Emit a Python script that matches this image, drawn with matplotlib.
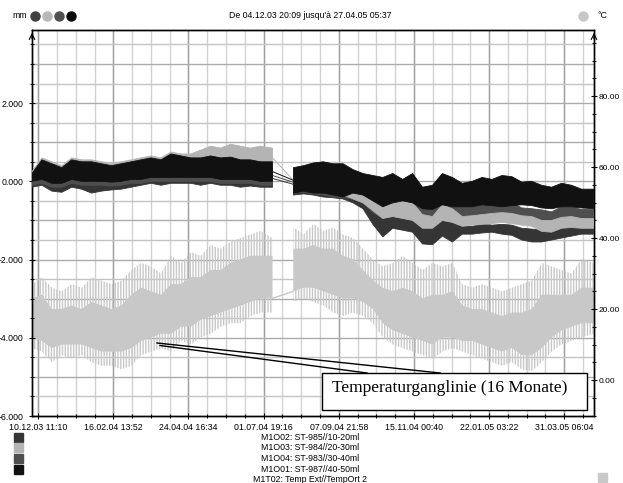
import matplotlib
matplotlib.use("Agg")
import matplotlib.pyplot as plt
import matplotlib.dates as mdates
import numpy as np
from datetime import datetime
from matplotlib.lines import Line2D
from matplotlib.patches import Rectangle

plt.rcParams['font.family'] = ['Liberation Sans', 'DejaVu Sans']
plt.rcParams['hatch.linewidth'] = 1.0

# time axis
t_start = datetime(2003, 12, 4, 20, 9)
t_end = datetime(2005, 4, 27, 5, 37)
tick_labels = ["10.12.03 11:10", "16.02.04 13:52", "24.04.04 16:34", "01.07.04 19:16",
               "07.09.04 21:58", "15.11.04 00:40", "22.01.05 03:22", "31.03.05 06:04"]

# sample nodes (days since start), nan row = logger gap
days = [0, 9, 18, 27, 36, 45, 54, 63, 72, 81, 90, 99, 108, 117, 126, 135, 144, 153, 162, 171,
        180, 189, 198, 207, 218, 227, 237, 246, 255, 264, 273, 282, 291, 300, 309, 318, 327, 336,
        345, 354, 363, 372, 381, 390, 399, 408, 417, 426, 435, 444, 453, 462, 471, 480, 489, 498, 509]
gap = 25  # index of the gap node

nan = np.nan
# temperature (right axis, deg C): spike envelope and dense core
temp_hi = [27, 29, 26, 25, 27, 26, 29, 28, 27, 28, 31, 33, 32, 30, 35, 33, 36, 35, 38, 37,
           39, 40, 41, 42, 40, nan, 43, 41, 44, 42, 43, 41, 40, 37, 34, 32, 33, 35,
           33, 31, 33, 32, 33, 27, 26, 27, 26, 25, 26, 27, 28, 33, 32, 31, 30, 34, 33]
temp_lo = [9, 8, 5, 7, 6, 7, 5, 4, 4, 3, 4, 7, 8, 9, 8, 11, 10, 12, 13, 15,
           16, 16, 18, 19, 19, nan, 22, 23, 22, 21, 19, 18, 19, 18, 16, 12, 10, 9,
           8, 7, 6, 8, 9, 8, 7, 6, 5, 4, 5, 3, 2.5, 5, 8, 10, 11, 12, 13]
temp_core_hi = [23, 24, 20, 20, 21, 20, 22, 21, 20, 21, 24, 26, 25, 24, 27, 27, 29, 29, 31, 31,
                33, 34, 35, 35, 35, nan, 37, 37, 38, 37, 37, 35, 34, 31, 28, 26, 25, 26,
                25, 23, 24, 24, 25, 21, 20, 20, 19, 18, 19, 19, 20, 24, 24, 24, 24, 26, 26]
temp_core_lo = [12, 11, 9, 10, 10, 10, 9, 8, 8, 8, 9, 11, 12, 13, 13, 15, 15, 17, 18, 19,
                20, 21, 22, 23, 23, nan, 25, 26, 26, 25, 24, 23, 23, 22, 20, 16, 14, 13,
                12, 11, 10, 12, 12, 11, 11, 10, 9, 8, 9, 7, 7, 9, 12, 14, 15, 16, 16]

# displacement series (left axis, mm): band high / low
m1o01_hi = [0.2, 0.55, 0.45, 0.35, 0.55, 0.5, 0.5, 0.45, 0.4, 0.45, 0.5, 0.55, 0.6, 0.55, 0.7, 0.65, 0.6, 0.6, 0.65, 0.6,
            0.62, 0.55, 0.55, 0.5, 0.5, nan, 0.35, 0.4, 0.47, 0.5, 0.45, 0.45, 0.3, 0.2, 0.15, 0.1, 0.2, 0.05,
            0.2, -0.15, -0.1, 0.2, 0.1, -0.05, 0.0, 0.1, 0.05, 0.15, 0.12, -0.02, 0.0, -0.1, -0.15, -0.05, -0.1, -0.2, -0.2]
m1o01_lo = [0.0, 0.05, -0.05, -0.05, 0.05, 0.0, 0.0, 0.0, -0.02, 0.0, 0.05, 0.05, 0.1, 0.1, 0.1, 0.1, 0.1, 0.1, 0.1, 0.05,
            0.05, 0.05, 0.05, 0.0, 0.0, nan, -0.3, -0.25, -0.3, -0.3, -0.35, -0.4, -0.3, -0.35, -0.5, -0.65, -0.55, -0.5,
            -0.55, -0.7, -0.72, -0.6, -0.65, -0.65, -0.65, -0.6, -0.62, -0.65, -0.62, -0.6, -0.62, -0.68, -0.7, -0.65, -0.65, -0.68, -0.7]
m1o03_hi = [0.25, 0.6, 0.5, 0.4, 0.6, 0.55, 0.55, 0.5, 0.45, 0.5, 0.55, 0.6, 0.65, 0.6, 0.75, 0.7, 0.7, 0.8, 0.9, 0.85,
            0.95, 0.9, 0.85, 0.9, 0.85, nan, 0.3, 0.35, 0.4, 0.42, 0.4, 0.35, 0.1, 0.0, -0.3, -0.5, -0.45, -0.5,
            -0.55, -0.85, -0.9, -0.6, -0.7, -0.9, -0.88, -0.85, -0.82, -0.8, -0.82, -0.88, -0.9, -1.0, -1.0, -0.92, -0.9, -0.95, -0.95]
m1o03_lo = [0.0, 0.1, 0.0, 0.0, 0.1, 0.05, 0.05, 0.05, 0.0, 0.05, 0.1, 0.1, 0.15, 0.15, 0.2, 0.2, 0.25, 0.3, 0.4, 0.35,
            0.4, 0.4, 0.35, 0.4, 0.35, nan, -0.25, -0.2, -0.25, -0.25, -0.3, -0.35, -0.45, -0.55, -0.75, -0.95, -0.9, -0.95,
            -1.0, -1.2, -1.2, -1.0, -1.05, -1.15, -1.12, -1.1, -1.08, -1.05, -1.08, -1.12, -1.15, -1.28, -1.3, -1.2, -1.18, -1.2, -1.2]
m1o04_hi = [0.1, 0.45, 0.3, 0.2, 0.4, 0.35, 0.35, 0.3, 0.25, 0.3, 0.35, 0.4, 0.45, 0.4, 0.55, 0.5, 0.45, 0.45, 0.5, 0.45,
            0.5, 0.45, 0.45, 0.4, 0.4, nan, 0.25, 0.3, 0.35, 0.38, 0.3, 0.3, 0.0, -0.15, -0.35, -0.4, -0.3, -0.3,
            -0.35, -0.55, -0.6, -0.3, -0.4, -0.65, -0.62, -0.6, -0.58, -0.5, -0.55, -0.68, -0.7, -0.73, -0.78, -0.65, -0.65, -0.72, -0.72]
m1o04_lo = [-0.1, -0.05, -0.15, -0.15, -0.05, -0.1, -0.1, -0.1, -0.12, -0.1, -0.05, -0.05, 0.0, 0.0, 0.0, 0.0, 0.0, 0.0, 0.0, -0.05,
            -0.05, -0.05, -0.05, -0.1, -0.1, nan, -0.3, -0.28, -0.32, -0.35, -0.4, -0.42, -0.45, -0.55, -0.8, -0.95, -0.75, -0.8,
            -0.85, -1.05, -1.05, -0.85, -0.9, -0.95, -0.95, -0.88, -0.85, -0.8, -0.85, -1.0, -1.02, -1.1, -1.1, -1.0, -0.98, -1.05, -1.05]
m1o02_hi = [0.05, 0.35, 0.15, 0.05, 0.3, 0.2, 0.15, 0.15, 0.1, 0.2, 0.25, 0.3, 0.35, 0.3, 0.45, 0.4, 0.4, 0.35, 0.4, 0.35,
            0.4, 0.35, 0.35, 0.3, 0.3, nan, 0.2, 0.25, 0.3, 0.3, 0.25, 0.2, -0.1, -0.3, -0.6, -0.8, -0.7, -0.75,
            -0.8, -1.05, -1.1, -0.9, -0.95, -1.15, -1.15, -1.1, -1.12, -1.1, -1.12, -1.2, -1.22, -1.25, -1.25, -1.15, -1.12, -1.1, -1.1]
m1o02_lo = [-0.15, -0.1, -0.25, -0.28, -0.15, -0.2, -0.3, -0.25, -0.22, -0.2, -0.15, -0.1, -0.05, -0.1, -0.05, -0.05, -0.05, -0.1, -0.05, -0.1,
            -0.1, -0.15, -0.12, -0.15, -0.15, nan, -0.35, -0.32, -0.35, -0.4, -0.42, -0.45, -0.55, -0.7, -1.1, -1.42, -1.2, -1.25,
            -1.3, -1.6, -1.62, -1.4, -1.55, -1.35, -1.35, -1.32, -1.3, -1.35, -1.38, -1.5, -1.55, -1.55, -1.5, -1.45, -1.4, -1.35, -1.35]

legend_names = ["M1O02: ST-985//10-20ml", "M1O03: ST-984//20-30ml",
                "M1O04: ST-983//30-40ml", "M1O01: ST-987//40-50ml"]
legend_colors = ["#353535", "#b4b4b4", "#4e4e4e", "#111111"]
temp_name = "M1T02: Temp Ext//TempOrt 2"
temp_color = "#c8c8c8"

W, H = 623, 483
fig = plt.figure(figsize=(W / 100, H / 100), dpi=100)
ax = fig.add_axes([32 / W, (H - 416) / H, 562 / W, 386 / H])
ax2 = ax.twinx()

x0 = mdates.date2num(t_start)
x = x0 + np.array(days, dtype=float)

# ---- axes limits first (grid lines use them)
ax.set_xlim(x0, mdates.date2num(t_end))
ax.set_ylim(-6, 3.87)
ax2.set_ylim(-10.14, 98.6)

# ---- grid, all on the lower (right) axes so the data sits on top
major = [mdates.date2num(datetime.strptime(s, "%d.%m.%y %H:%M")) for s in tick_labels]
step = major[1] - major[0]
minor = np.arange(major[0] - step, major[-1] + 2 * step, step / 4)
minor = minor[(minor > x0) & (minor < mdates.date2num(t_end))]
for m in minor:
    ax2.axvline(m, color="#d2d2d2", lw=1.0, zorder=0)
for m in major:
    ax2.axvline(m, color="#a0a0a0", lw=1.0, zorder=0)
for v in np.arange(-5.5, 4.0, 0.5):
    ax2.add_line(Line2D([0, 1], [v, v], transform=ax.get_yaxis_transform(),
                        color="#c4c4c4" if v % 1 else "#acacac", lw=1.0, zorder=0))

# ---- temperature on right axis
ax2.fill_between(x, temp_lo, temp_hi, facecolor="none", edgecolor=temp_color,
                 hatch="||||||", linewidth=0, zorder=1)
ax2.fill_between(x, temp_core_lo, temp_core_hi, color=temp_color, linewidth=0, zorder=1)
ax2.plot([x[gap - 1], x[gap + 1]], [temp_core_lo[gap - 1], temp_core_lo[gap + 1]],
         color=temp_color, lw=1.0, zorder=1)

# ---- displacement series (left axis, drawn above temp)
ax.set_zorder(ax2.get_zorder() + 1)
ax.patch.set_visible(False)
series = [(m1o02_lo, m1o02_hi, legend_colors[0]), (m1o04_lo, m1o04_hi, legend_colors[2]),
          (m1o03_lo, m1o03_hi, legend_colors[1]), (m1o01_lo, m1o01_hi, legend_colors[3])]
for lo, hi, c in series:
    ax.fill_between(x, lo, hi, color=c, linewidth=0.6, edgecolor=c, zorder=3)
    ax.plot([x[gap - 1], x[gap + 1]], [(lo[gap - 1] + hi[gap - 1]) / 2, (lo[gap + 1] + hi[gap + 1]) / 2],
            color=c, lw=0.7, zorder=3)

# ---- ticks
ax.set_xticks(major)
ax.set_xticklabels(tick_labels, fontsize=6.3)
ax.set_xticks(minor, minor=True)
ax.set_yticks([-6, -4, -2, 0, 2])
ax.set_yticklabels(["{:.3f}".format(v) for v in [-6, -4, -2, 0, 2]], fontsize=6.3)
ax.set_yticks(np.arange(-5.5, 3.9, 0.5), minor=True)
ax2.set_yticks([0, 20, 40, 60, 80])
ax2.set_yticklabels(["{:.2f}".format(v) for v in [0, 20, 40, 60, 80]], fontsize=6.0)
ax2.set_yticks(np.arange(-10, 98, 5), minor=True)
for a in (ax, ax2):
    a.tick_params(which="both", direction="inout", length=4, width=0.8, colors="black", pad=3)
    a.tick_params(which="minor", length=3)
    for s in a.spines.values():
        s.set_color("black")
        s.set_linewidth(1.0)
ax.tick_params(axis="y", pad=4)
ax2.tick_params(axis="y", pad=1.5)

# axis arrows
ax.annotate("", xy=(0, 1.0), xytext=(0, 0.97), xycoords="axes fraction",
            arrowprops=dict(arrowstyle="->", lw=0.8, color="black"))
ax.annotate("", xy=(1, 1.0), xytext=(1, 0.97), xycoords="axes fraction",
            arrowprops=dict(arrowstyle="->", lw=0.8, color="black"))

# ---- header
def fx(px):
    return px / W

def fy(py):
    return 1 - py / H

fig.text(fx(12), fy(16), "mm", fontsize=6.3, va="center")
for i, c in enumerate(["#404040", "#b8b8b8", "#505050", "#0a0a0a"]):
    fig.add_artist(Line2D([fx(35 + 12 * i)], [fy(16)], marker="o", ms=6.5, color=c, mec=c))
fig.text(fx(310), fy(16), "De 04.12.03 20:09 jusqu'à 27.04.05 05:37", fontsize=6.3,
         ha="center", va="center")
fig.add_artist(Line2D([fx(583)], [fy(16)], marker="o", ms=6.5, color=temp_color, mec=temp_color))
fig.text(fx(598), fy(16), "°C", fontsize=6.3, va="center")

# ---- legend below
for i, (name, c) in enumerate(zip(legend_names, legend_colors)):
    yy = 437 + 10.8 * i
    fig.add_artist(Rectangle((fx(14), fy(yy + 4.5)), 9 / W, 9 / H, color=c))
    fig.text(fx(310), fy(yy), name, fontsize=6.3, ha="center", va="center")
fig.text(fx(310), fy(480), temp_name, fontsize=6.3, ha="center", va="center")
fig.add_artist(Rectangle((fx(598), fy(482)), 9 / W, 9 / H, color=temp_color))

# ---- callout
fig.add_artist(Line2D([fx(157), fx(440)], [fy(343), fy(373)], color="black", lw=1.0))
fig.add_artist(Line2D([fx(160), fx(367)], [fy(345.5), fy(373)], color="black", lw=1.0))
fig.add_artist(Rectangle((fx(322), fy(410)), 265 / W, 37 / H, facecolor="white",
                         edgecolor="black", lw=1.0))
fig.text(fx(450), fy(388), "Temperaturganglinie (16 Monate)", fontsize=12.5,
         family="Liberation Serif", ha="center", va="center")

fig.savefig("out.png", dpi=100)
